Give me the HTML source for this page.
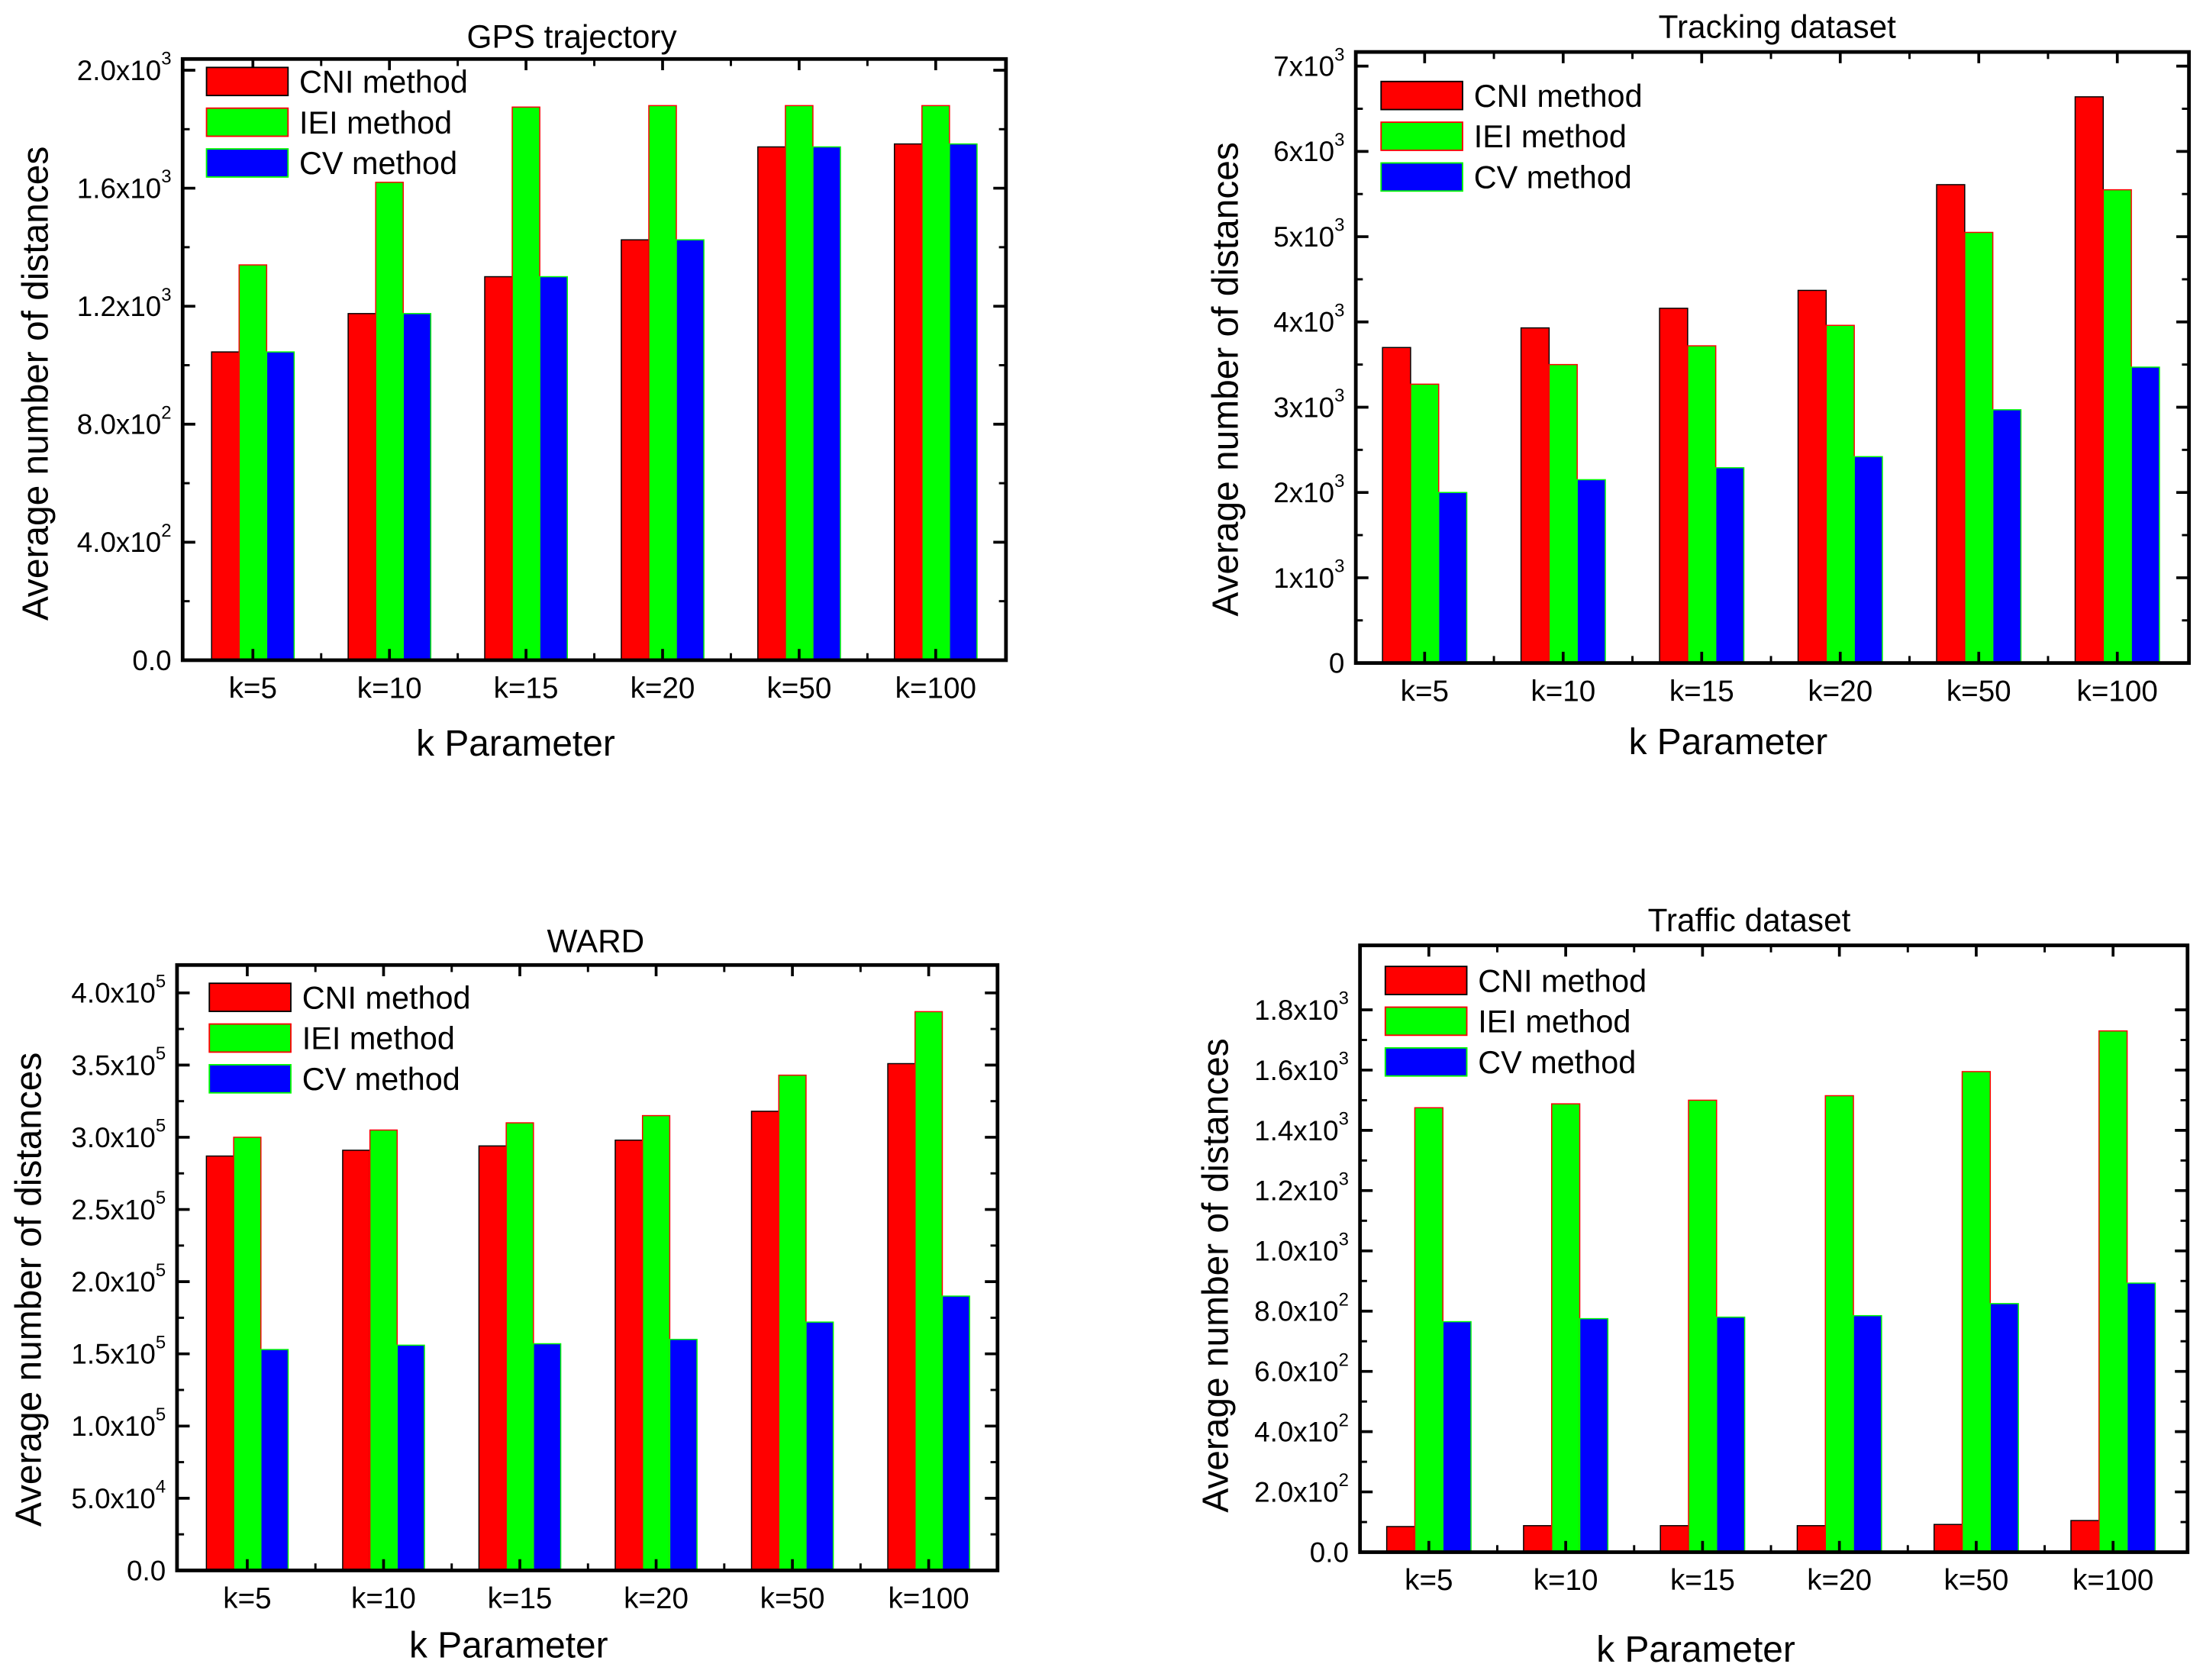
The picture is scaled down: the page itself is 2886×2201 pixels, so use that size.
<!DOCTYPE html>
<html><head><meta charset="utf-8"><style>
html,body{margin:0;padding:0;background:#fff;}
svg{display:block;font-family:"Liberation Sans",Arial,sans-serif;}
</style></head><body>
<svg id="fig" width="2886" height="2201" viewBox="0 0 1568 1196" preserveAspectRatio="none" xmlns="http://www.w3.org/2000/svg"></svg>
<script>
const categories = ["k=5","k=10","k=15","k=20","k=50","k=100"];
const seriesNames = ["CNI method","IEI method","CV method"];
// GPS trajectory
const gpsCNI = [1045,1175,1300,1425,1740,1750];
const gpsIEI = [1340,1620,1875,1880,1880,1880];
const gpsCV  = [1045,1175,1300,1425,1740,1750];
const gpsTicks = [0,400,800,1200,1600,2000];
const gpsTickLabels = [["0.0",""],["4.0x10","2"],["8.0x10","2"],["1.2x10","3"],["1.6x10","3"],["2.0x10","3"]];
// Tracking dataset
const trkCNI = [3700,3930,4160,4370,5610,6640];
const trkIEI = [3270,3500,3720,3960,5050,5550];
const trkCV  = [2000,2150,2290,2420,2970,3470];
const trkTicks = [0,1000,2000,3000,4000,5000,6000,7000];
const trkTickLabels = [["0",""],["1x10","3"],["2x10","3"],["3x10","3"],["4x10","3"],["5x10","3"],["6x10","3"],["7x10","3"]];
// WARD
const wardCNI = [287000,291000,294000,298000,318000,351000];
const wardIEI = [300000,305000,310000,315000,343000,387000];
const wardCV  = [153000,156000,157000,160000,172000,190000];
const wardTicks = [0,50000,100000,150000,200000,250000,300000,350000,400000];
const wardTickLabels = [["0.0",""],["5.0x10","4"],["1.0x10","5"],["1.5x10","5"],["2.0x10","5"],["2.5x10","5"],["3.0x10","5"],["3.5x10","5"],["4.0x10","5"]];
// Traffic dataset
const trfCNI = [85,88,88,88,92,105];
const trfIEI = [1475,1488,1500,1515,1595,1730];
const trfCV  = [765,775,780,785,825,893];
const trfTicks = [0,200,400,600,800,1000,1200,1400,1600,1800];
const trfTickLabels = [["0.0",""],["2.0x10","2"],["4.0x10","2"],["6.0x10","2"],["8.0x10","2"],["1.0x10","3"],["1.2x10","3"],["1.4x10","3"],["1.6x10","3"],["1.8x10","3"]];

const NS="http://www.w3.org/2000/svg";
const svg=document.getElementById('fig');
function mk(tag,attrs,parent){const e=document.createElementNS(NS,tag);for(const k in attrs)e.setAttribute(k,attrs[k]);(parent||svg).appendChild(e);return e;}

const fills=["#ff0000","#00ff00","#0000ff"];
const strokes=["#000000","#ff0000","#00ff00"];

function chart(id,cfg,series,ticks,tickLabels){
  const g=mk('g',{});
  
  
  const {L,R,T,B,ymax,x0,step,bw}=cfg;
  const yS=v=>B-(v/ymax)*(B-T);
  const xS=i=>x0+i*step;
  series.forEach((arr,s)=>{
    arr.forEach((v,i)=>{
      const x=xS(i)-1.5*bw+s*bw;
      const r=mk('rect',{x:x,y:yS(v),width:bw,height:B-yS(v),fill:fills[s],stroke:strokes[s],'stroke-width':0.8},g);
      
      
    });
  });
  const fr=mk('rect',{x:L,y:T,width:R-L,height:B-T,fill:'none',stroke:'#000','stroke-width':2.6},g);
  
  
  ticks.forEach((v,i)=>{
    const y=yS(v);
    mk('line',{x1:L,x2:L+9,y1:y,y2:y,stroke:'#000','stroke-width':2},g);
    mk('line',{x1:R,x2:R-9,y1:y,y2:y,stroke:'#000','stroke-width':2},g);
    if(i<ticks.length-1){const ym=yS((v+ticks[i+1])/2);
      mk('line',{x1:L,x2:L+5,y1:ym,y2:ym,stroke:'#000','stroke-width':1.6},g);
      mk('line',{x1:R,x2:R-5,y1:ym,y2:ym,stroke:'#000','stroke-width':1.6},g);}
    const t=mk('text',{x:L-8,y:y+7,'font-size':20,'text-anchor':'end'},g);
    
    
    const lab=tickLabels[i];
    if(lab[1]){
      const a=mk('tspan',{},t);a.textContent=lab[0];
      const b=mk('tspan',{dy:-11,'font-size':13},t);b.textContent=lab[1];
    } else t.textContent=lab[0];
  });
  categories.forEach((c,i)=>{
    const x=xS(i);
    mk('line',{x1:x,x2:x,y1:B,y2:B-8,stroke:'#000','stroke-width':2},g);
    mk('line',{x1:x,x2:x,y1:T,y2:T+8,stroke:'#000','stroke-width':2},g);
    if(i<categories.length-1){const xm=x+step/2;
      mk('line',{x1:xm,x2:xm,y1:B,y2:B-5,stroke:'#000','stroke-width':1.6},g);
      mk('line',{x1:xm,x2:xm,y1:T,y2:T+5,stroke:'#000','stroke-width':1.6},g);}
    const t=mk('text',{x:x,y:B+27,'font-size':21,'text-anchor':'middle'},g);
    
    
    t.textContent=c;
  });
  const tt=mk('text',{x:cfg.tx,y:cfg.ty,'font-size':23,'text-anchor':'middle'},g);
  
  
  tt.textContent=cfg.title;
  const xl=mk('text',{x:cfg.xlx,y:cfg.xly,'font-size':26,'text-anchor':'middle'},g);
  
  
  xl.textContent='k Parameter';
  const yl=mk('text',{x:0,y:0,'font-size':26,'text-anchor':'middle',transform:`translate(${cfg.ylx},${cfg.yly}) rotate(-90)`},g);
  
  
  yl.textContent='Average number of distances';
  seriesNames.forEach((n,s)=>{
    const y=cfg.lgy+s*29;
    const sw=mk('rect',{x:cfg.lgx,y:y,width:58,height:20,fill:fills[s],stroke:strokes[s],'stroke-width':1},g);
    
    
    const lt=mk('text',{x:cfg.lgx+66,y:y+18,'font-size':22.5},g);
    
    
    lt.textContent=n;
  });
}

chart('gps',{L:130,R:716,T:42,B:470,ymax:2038,x0:180,step:97.2,bw:19.6,title:'GPS trajectory',tx:407,ty:34,xlx:367,xly:538,ylx:34,yly:273,lgx:147,lgy:48},[gpsCNI,gpsIEI,gpsCV],gpsTicks,gpsTickLabels);
chart('tracking',{L:965,R:1558,T:37,B:472,ymax:7166,x0:1014,step:98.6,bw:20,title:'Tracking dataset',tx:1265,ty:27,xlx:1230,xly:537,ylx:881,yly:270,lgx:983,lgy:58},[trkCNI,trkIEI,trkCV],trkTicks,trkTickLabels);
chart('ward',{L:126,R:710,T:687,B:1118,ymax:419300,x0:176,step:97,bw:19.4,title:'WARD',tx:424,ty:678,xlx:362,xly:1180,ylx:29,yly:918,lgx:149,lgy:700},[wardCNI,wardIEI,wardCV],wardTicks,wardTickLabels);
chart('traffic',{L:968,R:1557,T:673,B:1105,ymax:2014,x0:1017,step:97.4,bw:20,title:'Traffic dataset',tx:1245,ty:663,xlx:1207,xly:1183,ylx:874,yly:908,lgx:986,lgy:688},[trfCNI,trfIEI,trfCV],trfTicks,trfTickLabels);
</script>
</body></html>
